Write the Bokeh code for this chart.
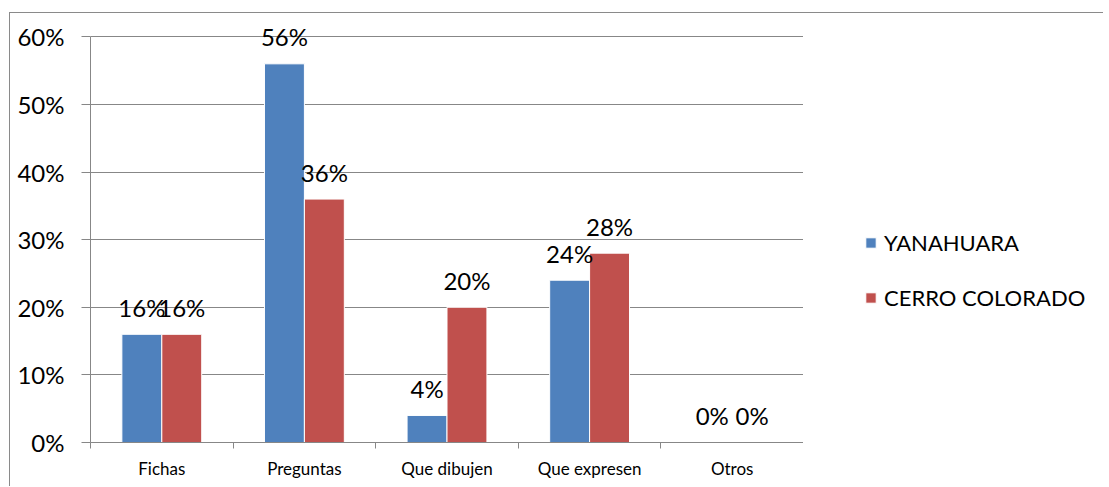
from bokeh.plotting import figure
from bokeh.layouts import row
from bokeh.models import (ColumnDataSource, FixedTicker, NumeralTickFormatter, Range1d,
                          Legend, LegendItem)
from bokeh.core.properties import value
from bokeh.embed import file_html
from bokeh.resources import INLINE

categories = ["Fichas", "Preguntas", "Que dibujen", "Que expresen", "Otros"]
yanahuara = [0.16, 0.56, 0.04, 0.24, 0.00]
cerro_colorado = [0.16, 0.36, 0.20, 0.28, 0.00]
series_names = ["YANAHUARA", "CERRO COLORADO"]
y_ticks = [0.0, 0.1, 0.2, 0.3, 0.4, 0.5, 0.6]

BLUE = "#4F81BD"
RED = "#C0504D"
GRID = "#878787"
FONT = "Lato"
BAR_W = 0.28

n = len(categories)
centers = [i + 0.5 for i in range(n)]

src_a = ColumnDataSource(dict(
    x=[c - BAR_W / 2 for c in centers], top=yanahuara,
    label=[f"{round(v * 100)}%" for v in yanahuara]))
src_b = ColumnDataSource(dict(
    x=[c + BAR_W / 2 for c in centers], top=cerro_colorado,
    label=[f"{round(v * 100)}%" for v in cerro_colorado]))

# frame extends a little above the 60% line so the top value label is not clipped
p = figure(frame_width=713, frame_height=426, output_backend="svg", toolbar_location=None,
           x_range=Range1d(0, n), y_range=Range1d(0, 0.63),
           min_border_left=80, min_border_right=0, min_border_top=3, min_border_bottom=44)
p.outline_line_color = None
p.background_fill_color = "white"
p.border_fill_color = "white"

r_a = p.vbar(x="x", top="top", width=BAR_W, source=src_a, fill_color=BLUE,
             line_color="white", line_width=1)
r_b = p.vbar(x="x", top="top", width=BAR_W, source=src_b, fill_color=RED,
             line_color="white", line_width=1)

for src in (src_a, src_b):
    p.text(x="x", y="top", text="label", source=src, text_align="center",
           text_baseline="alphabetic", y_offset=-27, text_font=value(FONT),
           text_font_size="24px", text_color="black")

# x axis: labels at centres, boundary tick marks
p.xaxis.ticker = FixedTicker(ticks=centers, minor_ticks=list(range(n + 1)))
p.xaxis.major_label_overrides = {c: cat for c, cat in zip(centers, categories)}
p.xaxis.major_tick_out = 0
p.xaxis.major_tick_in = 0
p.xaxis.minor_tick_out = 6
p.xaxis.minor_tick_in = 0
p.xaxis.minor_tick_line_color = GRID
p.xaxis.axis_line_color = GRID
p.xaxis.major_label_text_font = FONT
p.xaxis.major_label_text_font_size = "17px"
p.xaxis.major_label_text_color = "black"
p.xaxis.major_label_standoff = 9
p.xgrid.visible = False

# y axis
p.yaxis.ticker = FixedTicker(ticks=y_ticks, minor_ticks=[])
p.yaxis.formatter = NumeralTickFormatter(format="0%")
p.yaxis.bounds = (0, 0.6)
p.yaxis.major_tick_out = 9
p.yaxis.major_tick_in = 0
p.yaxis.major_tick_line_color = GRID
p.yaxis.axis_line_color = GRID
p.yaxis.major_label_text_font = FONT
p.yaxis.major_label_text_font_size = "24px"
p.yaxis.major_label_text_color = "black"
p.yaxis.major_label_standoff = 17
p.ygrid.grid_line_color = GRID
p.ygrid.grid_line_width = 1

# legend panel (renderers hold the series but lie outside this panel's ranges)
pl = figure(width=300, height=473, output_backend="svg", toolbar_location=None,
            x_axis_type=None, y_axis_type=None, min_border=0,
            x_range=Range1d(-3, -2), y_range=Range1d(-3, -2))
pl.outline_line_color = None
pl.xgrid.visible = False
pl.ygrid.visible = False
la = pl.vbar(x="x", top="top", width=BAR_W, source=src_a, fill_color=BLUE, line_color="white")
lb = pl.vbar(x="x", top="top", width=BAR_W, source=src_b, fill_color=RED, line_color="white")
legend = Legend(items=[LegendItem(label=series_names[0], renderers=[la]),
                       LegendItem(label=series_names[1], renderers=[lb])],
                location=(61, 131), orientation="vertical",
                padding=0, margin=0, spacing=28, glyph_width=13, glyph_height=13,
                label_height=20, label_standoff=7, border_line_color=None,
                background_fill_alpha=0, label_text_font=FONT,
                label_text_font_size="22px", label_text_color="black")
pl.add_layout(legend, "center")

layout = row(p, pl, styles={"border-left": "1px solid #8a8a8a",
                            "border-top": "1px solid #8a8a8a",
                            "margin-left": "9px", "margin-top": "12px"})

open("out.html", "w").write(file_html(layout, INLINE))
